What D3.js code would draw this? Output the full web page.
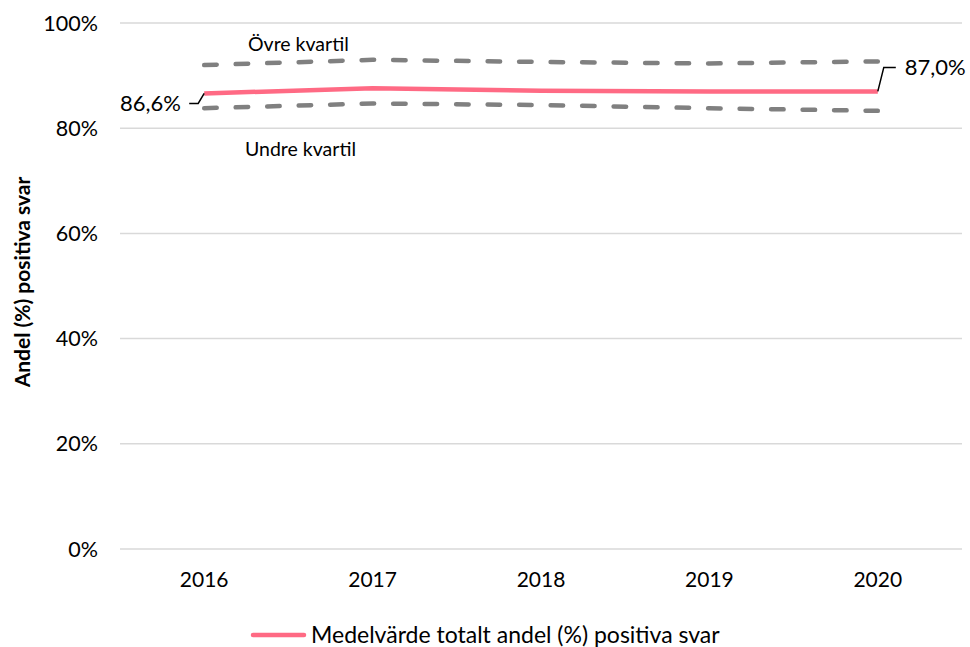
<!DOCTYPE html>
<html>
<head>
<meta charset="utf-8">
<script src="https://cdn.jsdelivr.net/npm/d3@7"></script>
<style>
  body { margin: 0; background: #fff; }
  text { font-family: Lato, "Open Sans", sans-serif; fill: #000; }
</style>
</head>
<body>
<div id="chart"></div>
<script>
// data
var years = ["2016", "2017", "2018", "2019", "2020"];
var medel = [86.6, 87.6, 87.1, 87.0, 87.0];
var ovreKvartil = [92.0, 93.0, 92.6, 92.3, 92.7];
var undreKvartil = [83.8, 84.7, 84.4, 83.8, 83.3];
var yTicks = [0, 20, 40, 60, 80, 100];

var width = 970;
var height = 647;
var margin = {top: 23, right: 8, bottom: 98, left: 120};

var svg = d3.select("#chart")
            .append("svg")
            .attr("width", width)
            .attr("height", height);

var x = d3.scaleBand()
          .domain(years)
          .range([margin.left, width - margin.right]);

var y = d3.scaleLinear()
          .domain([0, 100])
          .range([height - margin.bottom, margin.top]);

var xc = function(d){ return x(d) + x.bandwidth() / 2; };

// gridlines
svg.selectAll("grid")
   .data(yTicks)
   .enter()
   .append("line")
   .attr("x1", margin.left)
   .attr("x2", width - margin.right)
   .attr("y1", function(d){ return y(d); })
   .attr("y2", function(d){ return y(d); })
   .attr("stroke", "#d9d9d9")
   .attr("stroke-width", 1.5);

// y tick labels
svg.selectAll("ylab")
   .data(yTicks)
   .enter()
   .append("text")
   .attr("x", 98)
   .attr("y", function(d){ return y(d); })
   .attr("dy", "0.35em")
   .attr("text-anchor", "end")
   .attr("font-size", "21.5px")
   .attr("fill", "#262626")
   .text(function(d){ return d + "%"; });

// x tick labels
svg.selectAll("xlab")
   .data(years)
   .enter()
   .append("text")
   .attr("x", xc)
   .attr("y", 580)
   .attr("dy", "0.35em")
   .attr("text-anchor", "middle")
   .attr("font-size", "21px")
   .attr("fill", "#262626")
   .text(function(d){ return d; });

// y axis title
svg.append("text")
   .attr("transform", "translate(30,282) rotate(-90)")
   .attr("text-anchor", "middle")
   .attr("font-size", "21px")
   .attr("font-weight", "bold")
   .text("Andel (%) positiva svar");

var line = d3.line()
             .x(function(d, i){ return xc(years[i]); })
             .y(function(d){ return y(d); });

// quartile lines
[ovreKvartil, undreKvartil].forEach(function(series){
  svg.append("path")
     .attr("d", line(series))
     .attr("fill", "none")
     .attr("stroke", "#808080")
     .attr("stroke-width", 4.5)
     .attr("stroke-linecap", "round")
     .attr("stroke-dasharray", "12.5 19");
});

// mean line
svg.append("path")
   .attr("d", line(medel))
   .attr("fill", "none")
   .attr("stroke", "#ff6a84")
   .attr("stroke-width", 4.5);

// quartile labels
svg.append("text")
   .attr("x", 248)
   .attr("y", 44)
   .attr("dy", "0.35em")
   .attr("font-size", "19.5px")
   .text("Övre kvartil");

svg.append("text")
   .attr("x", 245)
   .attr("y", 149)
   .attr("dy", "0.35em")
   .attr("font-size", "19.5px")
   .text("Undre kvartil");

// data labels with leader lines
var first = medel[0];
var last = medel[medel.length - 1];
var x0 = xc(years[0]);
var x4 = xc(years[years.length - 1]);

svg.append("path")
   .attr("d", "M" + (x0 - 15) + "," + (y(first) + 10) + "H" + (x0 - 6) + "L" + x0 + "," + y(first))
   .attr("fill", "none")
   .attr("stroke", "#000")
   .attr("stroke-width", 1.5);

svg.append("text")
   .attr("x", 181)
   .attr("y", y(first) + 10)
   .attr("dy", "0.35em")
   .attr("text-anchor", "end")
   .attr("font-size", "22px")
   .attr("fill", "#262626")
   .text(d3.format(".1f")(first).replace(".", ",") + "%");

svg.append("path")
   .attr("d", "M" + x4 + "," + y(last) + "L" + (x4 + 6) + "," + (y(last) - 24) + "H" + (x4 + 18))
   .attr("fill", "none")
   .attr("stroke", "#000")
   .attr("stroke-width", 1.5);

svg.append("text")
   .attr("x", x4 + 27)
   .attr("y", y(last) - 24)
   .attr("dy", "0.35em")
   .attr("font-size", "22px")
   .attr("fill", "#262626")
   .text(d3.format(".1f")(last).replace(".", ",") + "%");

// legend
svg.append("line")
   .attr("x1", 253)
   .attr("x2", 304)
   .attr("y1", 635)
   .attr("y2", 635)
   .attr("stroke", "#ff6a84")
   .attr("stroke-width", 4.5)
   .attr("stroke-linecap", "round");

svg.append("text")
   .attr("x", 311)
   .attr("y", 635)
   .attr("dy", "0.35em")
   .attr("font-size", "23px")
   .attr("fill", "#262626")
   .text("Medelvärde totalt andel (%) positiva svar");
</script>
</body>
</html>
